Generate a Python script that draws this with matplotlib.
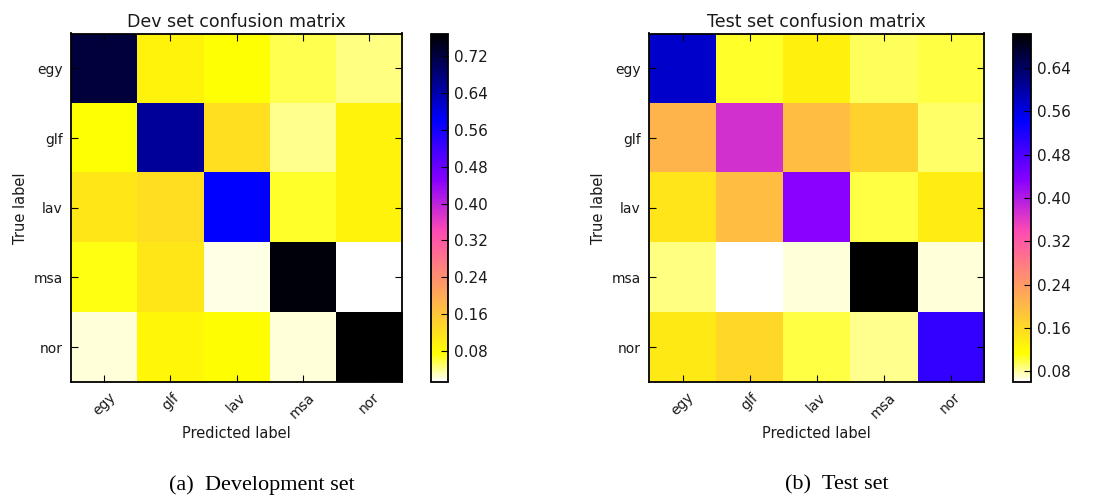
import numpy as np
import matplotlib
matplotlib.use('Agg')
import matplotlib.pyplot as plt

labels = ['egy', 'glf', 'lav', 'msa', 'nor']

# rows = true label, cols = predicted label (normalised)
dev_cm = np.array([
    [0.724, 0.090, 0.075, 0.056, 0.043],
    [0.075, 0.655, 0.120, 0.040, 0.090],
    [0.110, 0.125, 0.580, 0.065, 0.090],
    [0.072, 0.110, 0.020, 0.760, 0.013],
    [0.022, 0.085, 0.076, 0.022, 0.769],
])

test_cm = np.array([
    [0.575, 0.105, 0.128, 0.095, 0.100],
    [0.208, 0.372, 0.195, 0.170, 0.092],
    [0.144, 0.195, 0.430, 0.100, 0.135],
    [0.086, 0.060, 0.070, 0.704, 0.068],
    [0.140, 0.163, 0.100, 0.085, 0.502],
])

dev_ticks = [0.08, 0.16, 0.24, 0.32, 0.40, 0.48, 0.56, 0.64, 0.72]
test_ticks = [0.08, 0.16, 0.24, 0.32, 0.40, 0.48, 0.56, 0.64]

titles = ['Dev set confusion matrix', 'Test set confusion matrix']
captions = ['(a)  Development set', '(b)  Test set']

W, H = 1095, 497
fig = plt.figure(figsize=(W / 100, H / 100), dpi=100)


def px(x0, y0, x1, y1):
    return [x0 / W, 1 - y1 / H, (x1 - x0) / W, (y1 - y0) / H]


# axes box, colorbar box, caption centre (pixels)
boxes = [(71, 402, 431, 448, 262), (649, 984, 1013, 1031, 837)]
top, bot = 33.5, 382
txt = '#1a1a1a'

for cm, ticks, title, cap, (ax0, ax1, cb0, cb1, cx) in zip(
        [dev_cm, test_cm], [dev_ticks, test_ticks], titles, captions, boxes):
    ax = fig.add_axes(px(ax0, top, ax1, bot))
    im = ax.imshow(cm, cmap='gnuplot2_r', interpolation='nearest', aspect='auto')
    ax.set_title(title, fontsize=12.5, pad=5, color=txt)
    ax.set_xticks(range(5))
    ax.set_yticks(range(5))
    ax.set_xticklabels(labels, rotation=45, fontsize=10, color=txt)
    ax.set_yticklabels(labels, fontsize=10, color=txt)
    ax.tick_params(direction='in', top=True, right=True, length=5, width=0.8, pad=6)
    ax.set_xlabel('Predicted label', fontsize=10.5, labelpad=4, color=txt)
    ax.set_ylabel('True label', fontsize=10.5, labelpad=4, color=txt)
    for s in ax.spines.values():
        s.set_linewidth(1.3)

    cax = fig.add_axes(px(cb0, top, cb1, bot))
    cb = fig.colorbar(im, cax=cax, ticks=ticks)
    cb.ax.set_yticklabels(['%.2f' % t for t in ticks], fontsize=11, color=txt)
    cb.ax.tick_params(direction='in', length=5, width=0.8, pad=4)
    cb.outline.set_linewidth(1.3)

    fig.text(cx / W, 1 - 485 / H, cap, ha='center', va='center',
             fontsize=16, family='Liberation Serif', color='black')

fig.savefig('out.png', dpi=100)
